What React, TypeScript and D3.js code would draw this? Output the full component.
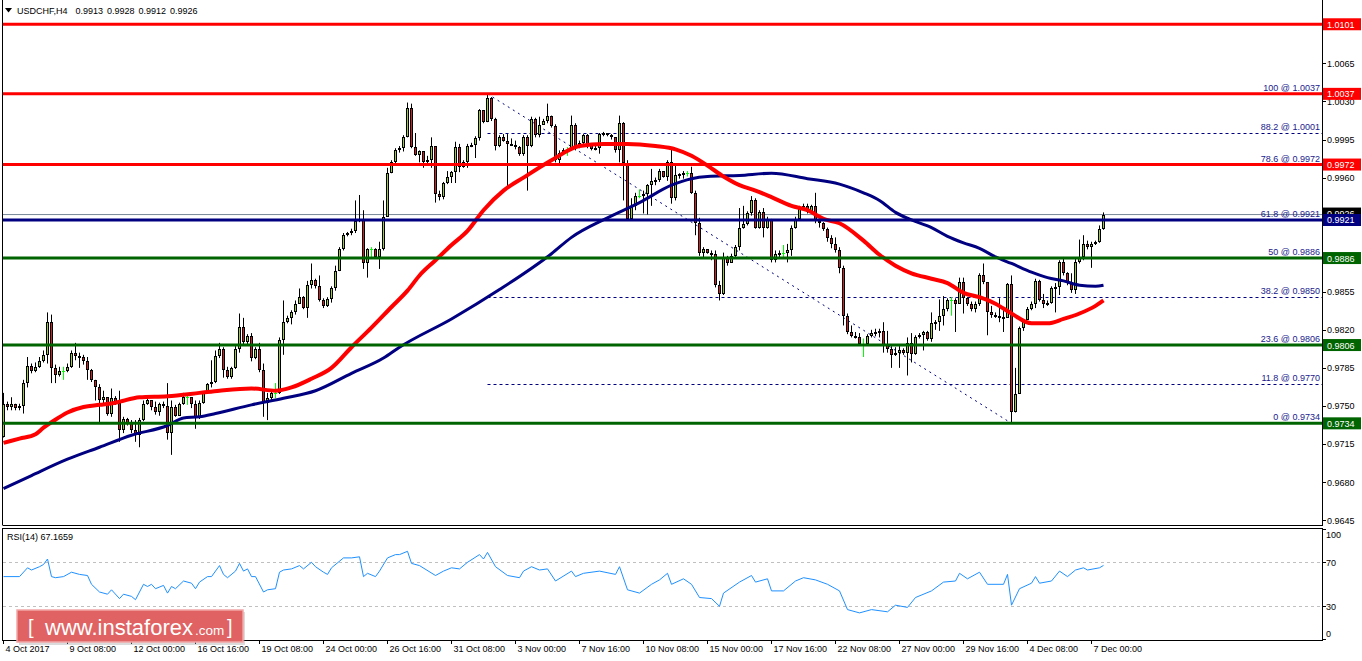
import React from 'react';
import * as d3 from 'd3';

// ---- OHLC data (price x 10000), H4 bars from 4 Oct 2017 ----
const firstOpen = 9721;
const closeP = [
  9752,9749,9752,9748,9750,9771,9787,9782,9786,9791,
  9797,9827,9785,9778,9782,9782,9786,9799,9796,9795,
  9791,9783,9774,9767,9755,9758,9743,9757,9753,9728,
  9738,9734,9728,9723,9737,9752,9755,9749,9744,9752,
  9750,9725,9749,9741,9752,9758,9758,9752,9739,9753,
  9762,9770,9772,9796,9802,9783,9777,9785,9802,9823,
  9809,9814,9794,9802,9783,9753,9757,9762,9762,9811,
  9827,9831,9836,9844,9850,9840,9861,9866,9860,9847,
  9842,9848,9858,9874,9894,9907,9909,9911,9920,9922,
  9881,9894,9894,9887,9894,9924,9964,9974,9985,9987,
  9997,10024,9988,9981,9984,9974,9976,9989,9945,9942,
  9955,9961,9965,9988,9970,9974,9989,9990,9996,10022,
  10011,10033,10014,9989,9997,9994,9991,9990,9988,9982,
  9997,9989,10014,9999,10008,10012,10017,10007,9976,9983,
  9985,9985,10008,9988,9992,9999,9991,9986,9987,10000,
  10001,9999,9997,9985,10010,9973,9922,9934,9943,9943,
  9945,9953,9957,9958,9966,9961,9974,9941,9962,9963,
  9964,9964,9946,9918,9891,9894,9891,9890,9861,9853,
  9887,9881,9888,9896,9914,9917,9927,9939,9914,9928,
  9914,9922,9884,9890,9891,9891,9893,9914,9922,9932,
  9934,9928,9934,9920,9918,9913,9904,9899,9893,9877,
  9833,9818,9814,9813,9807,9807,9814,9817,9818,9819,
  9806,9802,9797,9799,9801,9799,9808,9798,9813,9815,
  9818,9812,9826,9827,9833,9839,9847,9847,9844,9864,
  9849,9844,9839,9844,9870,9864,9836,9834,9833,9832,
  9831,9862,9744,9761,9822,9829,9839,9844,9865,9847,
  9844,9845,9858,9859,9882,9872,9863,9857,9882,9887,
  9899,9896,9899,9901,9913,9926
];
const highP = [
  9762,9754,9758,9752,9752,9774,9795,9789,9790,9795,
  9801,9836,9834,9788,9786,9786,9789,9801,9808,9799,
  9797,9795,9784,9774,9770,9764,9755,9766,9759,9764,
  9740,9739,9737,9737,9739,9755,9758,9755,9754,9753,
  9754,9771,9755,9751,9753,9762,9761,9757,9755,9755,
  9763,9771,9792,9801,9808,9804,9786,9786,9805,9835,
  9831,9816,9817,9804,9808,9789,9762,9764,9771,9813,
  9847,9833,9838,9847,9858,9851,9865,9881,9867,9870,
  9849,9850,9860,9879,9896,9909,9910,9913,9939,9944,
  9930,9895,9896,9895,9901,9939,9969,9976,9987,9989,
  9999,10029,10028,10001,9985,9980,9980,9997,9989,9948,
  9956,9966,9966,9993,9991,9976,9991,9992,9998,10023,
  10022,10037,10034,10015,9999,10000,10000,9996,9994,9989,
  9999,9999,10016,10015,10016,10014,10028,10017,10009,9985,
  9987,9988,10017,10010,9994,10000,10000,9991,9989,10001,
  10002,10001,10000,9997,10017,10011,9976,9941,9946,9949,
  9948,9954,9968,9960,9968,9966,9976,9988,9973,9964,
  9966,9966,9970,9948,9923,9896,9894,9893,9893,9865,
  9891,9888,9890,9898,9932,9934,9929,9943,9941,9930,
  9932,9924,9922,9893,9893,9898,9899,9916,9924,9934,
  9936,9936,9935,9946,9922,9919,9914,9907,9905,9896,
  9879,9835,9824,9818,9817,9812,9816,9820,9821,9821,
  9827,9819,9805,9804,9805,9803,9813,9817,9815,9817,
  9819,9819,9836,9829,9848,9851,9849,9850,9849,9868,
  9868,9850,9846,9846,9872,9881,9863,9842,9836,9849,
  9840,9863,9870,9785,9823,9830,9841,9846,9867,9866,
  9853,9847,9860,9863,9884,9887,9873,9872,9886,9903,
  9907,9902,9901,9902,9916,9928
];
const lowP = [
  9721,9746,9746,9746,9746,9743,9767,9780,9781,9785,
  9790,9789,9771,9771,9777,9774,9781,9785,9792,9785,
  9788,9774,9772,9755,9735,9751,9741,9740,9751,9717,
  9725,9732,9725,9717,9712,9736,9751,9746,9742,9741,
  9748,9719,9705,9740,9746,9751,9751,9748,9729,9738,
  9752,9762,9767,9771,9794,9776,9775,9775,9784,9799,
  9806,9807,9791,9793,9781,9740,9737,9755,9757,9761,
  9797,9826,9825,9834,9847,9839,9831,9858,9858,9846,
  9840,9841,9845,9856,9874,9893,9906,9907,9909,9919,
  9876,9868,9887,9886,9876,9893,9924,9964,9973,9983,
  9984,9997,9987,9980,9974,9969,9971,9969,9937,9939,
  9940,9954,9955,9955,9965,9969,9969,9988,9978,9994,
  10010,10011,10012,9985,9988,9993,9950,9989,9986,9980,
  9980,9948,9988,9997,9997,10009,10010,10006,9974,9973,
  9981,9980,9985,9985,9987,9991,9987,9985,9985,9982,
  9998,9998,9995,9983,9974,9939,9921,9921,9930,9941,
  9927,9926,9934,9953,9956,9960,9957,9936,9939,9959,
  9959,9961,9945,9907,9888,9886,9890,9884,9859,9847,
  9852,9879,9882,9887,9893,9913,9916,9925,9913,9913,
  9905,9913,9882,9882,9887,9886,9882,9888,9913,9922,
  9932,9927,9927,9918,9914,9911,9901,9895,9891,9872,
  9824,9816,9813,9812,9806,9795,9809,9813,9814,9813,
  9799,9799,9785,9796,9785,9797,9778,9790,9797,9812,
  9801,9810,9809,9820,9819,9824,9837,9833,9818,9847,
  9835,9842,9837,9836,9842,9862,9815,9831,9831,9827,
  9818,9831,9734,9744,9795,9819,9829,9838,9840,9846,
  9840,9842,9844,9836,9852,9870,9861,9854,9853,9881,
  9884,9894,9877,9898,9900,9912
];

// ---- Moving averages (sampled at bar indices) ----
const redMaBars = [0,4,8,10,12,16,20,24,28,34,41,49,54,62,68,72,77,82,87,92,97,101,104,108,112,116,120,125,130,137,144,150,156,163,168,172,176,180,184,188,192,197,201,205,209,215,219,223,227,232,236,240,244,248,252,257,261,265,269,273,275];
const redMaVals = [0.9716,0.9720,0.9724,0.9730,0.9735,0.9744,0.9749,0.9751,0.9753,0.9758,0.9759,0.9762,0.9764,0.9766,0.9764,0.9767,0.9775,0.9785,0.9804,0.9822,0.9841,0.9856,0.9870,0.9884,0.9898,0.9911,0.9930,0.9948,0.9960,0.9976,0.9989,0.9991,0.9991,0.9989,0.9986,0.9980,0.9971,0.9961,0.9953,0.9948,0.9942,0.9934,0.9930,0.9922,0.9918,0.9902,0.9889,0.9879,0.9872,0.9867,0.9863,0.9854,0.9850,0.9844,0.9835,0.9826,0.9826,0.9830,0.9835,0.9842,0.9847];
const navyMaBars = [0,7,16,24,32,41,45,49,53,62,70,78,87,95,99,112,124,137,142,151,159,167,172,176,184,192,201,209,215,219,223,227,232,236,240,244,248,252,257,261,265,269,273,275];
const navyMaVals = [0.9674,0.9686,0.9701,0.9712,0.9723,0.9732,0.9739,0.9740,0.9743,0.9751,0.9757,0.9764,0.9780,0.9794,0.9804,0.9830,0.9857,0.9890,0.9905,0.9923,0.9937,0.9953,0.9959,0.9961,0.9962,0.9964,0.9959,0.9954,0.9946,0.9939,0.9928,0.9921,0.9914,0.9906,0.9900,0.9895,0.9887,0.9881,0.9873,0.9868,0.9865,0.9861,0.9860,0.9861];

// ---- RSI(14) ----
const rsiBars = [0,4,6,7,9,10,11,12,13,15,17,19,21,22,24,26,27,29,30,32,33,35,36,37,38,40,41,42,43,45,47,48,49,51,52,54,55,56,58,59,60,61,62,63,65,66,68,69,70,72,74,75,77,78,80,81,82,85,87,89,90,91,93,94,96,98,99,101,102,104,108,110,112,114,116,119,120,121,123,126,129,130,132,134,136,138,142,143,145,149,153,154,156,159,162,164,166,167,170,172,174,177,179,180,184,187,188,191,192,195,198,200,203,206,209,211,214,217,221,223,226,228,232,235,238,239,241,244,246,250,251,252,254,257,258,259,262,264,266,268,270,271,274,275];
const rsiVals = [57,57,65,63,66,68,73,57,56,57,61,59,58,50,43,41,45,37,41,39,36,50,48,50,46,49,42,48,46,53,51,46,52,57,57,67,59,56,62,69,62,64,57,57,43,45,46,61,63,64,67,64,70,66,61,59,65,74,74,75,57,60,57,62,74,77,77,80,69,67,58,62,65,64,70,77,73,79,66,58,56,62,66,63,64,53,62,57,60,62,59,66,45,42,50,54,60,50,55,50,38,37,30,42,52,58,52,55,44,44,53,56,54,50,44,27,24,27,25,31,29,38,44,52,53,60,55,61,50,50,59,31,46,51,57,51,53,62,57,63,65,63,65,67.17];

// ---- Levels ----
const resistanceLevels = [1.0101, 1.0037, 0.9972];
const pivotLevels = [0.9921];
const supportLevels = [0.9886, 0.9806, 0.9734];
const currentPrice = 0.9926;
const fibRatios = ['100', '88.2', '78.6', '61.8', '50', '38.2', '23.6', '11.8', '0'];
const fibPrices = [1.0037, 1.0001, 0.9972, 0.9921, 0.9886, 0.9850, 0.9806, 0.9770, 0.9734];
const fibStartBar = 121;
const fibEndBar = 252;

const priceTicks = [1.0065, 1.0030, 0.9995, 0.9960, 0.9890, 0.9855, 0.9820, 0.9785, 0.9750, 0.9715, 0.9680, 0.9645];
const rsiTicks = [100, 70, 30, 0];
const rsiLevels = [70, 30];
const timeLabels = ['4 Oct 2017','9 Oct 08:00','12 Oct 00:00','16 Oct 16:00','19 Oct 08:00','24 Oct 00:00','26 Oct 16:00','31 Oct 08:00','3 Nov 00:00','7 Nov 16:00','10 Nov 08:00','15 Nov 00:00','17 Nov 16:00','22 Nov 08:00','27 Nov 00:00','29 Nov 16:00','4 Dec 08:00','7 Dec 00:00'];
const barsPerLabel = 16;

const FONT = "'Liberation Sans', Arial, sans-serif";

export default function App() {
  const W = 1362, H = 661;
  const left = 3, right = 1322, mainTop = 0, mainBottom = 525, rsiTop = 528, rsiBottom = 640;
  const n = closeP.length;
  const x = d3.scaleLinear().domain([0, n - 1]).range([3.5, 3.5 + 4 * (n - 1)]);
  const y = d3.scaleLinear().domain([0.96405, 1.01224]).range([mainBottom, 1]);
  const yr = d3.scaleLinear().domain([0, 100]).range([639.3, 529.3]);

  const candles = closeP.map((c, i) => {
    const o = i === 0 ? firstOpen : closeP[i - 1];
    return { i, o: o / 10000, c: c / 10000, h: highP[i] / 10000, l: lowP[i] / 10000 };
  });

  const maLine = d3.line<[number, number]>().x(d => x(d[0])).y(d => y(d[1])).curve(d3.curveMonotoneX);
  const redPts: [number, number][] = redMaBars.map((b, k) => [b, redMaVals[k]]);
  const navyPts: [number, number][] = navyMaBars.map((b, k) => [b, navyMaVals[k]]);
  const rsiLine = d3.line<[number, number]>().x(d => x(d[0])).y(d => yr(d[1]));
  const rsiPts: [number, number][] = rsiBars.map((b, k) => [b, rsiVals[k]]);

  const fmt = (p: number) => p.toFixed(4);
  const levelLine = (p: number, color: string, key: string) => (
    <line key={key} x1={left} x2={right} y1={y(p)} y2={y(p)} stroke={color} strokeWidth={3} />
  );
  const box = (p: number, color: string, key: string, dy = 0) => (
    <g key={key}>
      <rect x={1323} y={y(p) - 6 + dy} width={38} height={12} fill={color} />
      <text x={1327} y={y(p) + 3.5 + dy} fontSize={9} fill="#fff" fontFamily={FONT}>{fmt(p)}</text>
    </g>
  );

  return (
    <svg width={W} height={H} style={{ position: 'absolute', left: 0, top: 0, background: '#fff' }}>
      <rect x={0} y={0} width={W} height={H} fill="#fff" />
      <defs>
        <clipPath id="mainClip"><rect x={left} y={mainTop} width={right - left} height={mainBottom - mainTop} /></clipPath>
        <clipPath id="rsiClip"><rect x={left} y={rsiTop} width={right - left} height={rsiBottom - rsiTop} /></clipPath>
        <clipPath id="curClip"><rect x={1323} y={0} width={38} height={y(0.9921) - 6} /></clipPath>
      </defs>

      {/* main panel */}
      <g clipPath="url(#mainClip)">
        <line x1={left} x2={right} y1={y(currentPrice)} y2={y(currentPrice)} stroke="#778899" strokeWidth={1} />
        {fibPrices.map((p, k) => (
          <line key={'fb' + k} x1={x(fibStartBar)} x2={right} y1={Math.round(y(p)) + 0.5} y2={Math.round(y(p)) + 0.5}
            stroke="#000080" strokeWidth={1} strokeDasharray="3,3" />
        ))}
        <line x1={x(fibStartBar)} y1={y(fibPrices[0])} x2={x(fibEndBar)} y2={y(fibPrices[fibPrices.length - 1])}
          stroke="#000080" strokeWidth={1} strokeDasharray="2,4" />

        {candles.map(d => {
          const cx = x(d.i);
          const doji = Math.abs(d.o - d.c) < 0.00005;
          if (doji) {
            const yy = Math.round(y(d.c)) + 0.5;
            return (
              <g key={d.i}>
                <line x1={cx} x2={cx} y1={y(d.h)} y2={y(d.l)} stroke="#00ff00" strokeWidth={1} />
                <line x1={cx - 1.5} x2={cx + 1.5} y1={yy} y2={yy} stroke="#00ff00" strokeWidth={1} />
              </g>
            );
          }
          const top = Math.round(y(Math.max(d.o, d.c)));
          const bot = Math.round(y(Math.min(d.o, d.c)));
          const hh = Math.max(bot - top, 2);
          const hi = Math.min(y(d.h), top);
          const lo = Math.max(y(d.l), top + hh);
          const bull = d.c > d.o;
          return (
            <g key={d.i}>
              <line x1={cx} x2={cx} y1={hi} y2={lo} stroke="#000" strokeWidth={1} />
              <rect x={cx - 1.5} y={top} width={3} height={hh} fill="#000" />
              {hh > 2 && <rect x={cx - 0.5} y={top + 1} width={1} height={hh - 2} fill={bull ? '#9acd32' : '#d11f1f'} />}
            </g>
          );
        })}

        <path d={maLine(navyPts) || ''} fill="none" stroke="#000080" strokeWidth={3} />
        <path d={maLine(redPts) || ''} fill="none" stroke="#ff0000" strokeWidth={4} />

        {resistanceLevels.map((p, k) => levelLine(p, '#ff0000', 'r' + k))}
        {pivotLevels.map((p, k) => levelLine(p, '#000080', 'p' + k))}
        {supportLevels.map((p, k) => levelLine(p, '#006400', 's' + k))}

        {fibPrices.map((p, k) => (
          <text key={'fl' + k} x={1320} y={y(p) - 3} textAnchor="end" fontSize={9} fill="#1a1a8c" fontFamily={FONT}>
            {fibRatios[k] + ' @ ' + fmt(p)}
          </text>
        ))}
      </g>

      {/* title */}
      <path d="M5,8 L12,8 L8.5,12.5 Z" fill="#000" />
      <text x={17} y={14} fontSize={9} fontFamily={FONT} fill="#000" wordSpacing={1.5} style={{ whiteSpace: 'pre' }}>{'USDCHF,H4  0.9913 0.9928 0.9912 0.9926'}</text>

      {/* frames */}
      <line x1={left - 0.5} x2={left - 0.5} y1={0} y2={mainBottom} stroke="#000" />
      <line x1={left - 0.5} x2={right + 0.5} y1={mainBottom + 0.5} y2={mainBottom + 0.5} stroke="#000" />
      <line x1={right + 0.5} x2={right + 0.5} y1={0} y2={mainBottom + 1} stroke="#000" />

      {/* price axis */}
      {priceTicks.map((p, k) => (
        <g key={'pt' + k}>
          <line x1={right + 1} x2={right + 4} y1={Math.round(y(p)) + 0.5} y2={Math.round(y(p)) + 0.5} stroke="#000" />
          {p !== 0.9890 && <text x={1327} y={y(p) + 3.5} fontSize={9} fontFamily={FONT} fill="#000">{fmt(p)}</text>}
        </g>
      ))}
      {/* current price tag, partly covered by the 0.9921 tag */}
      <g clipPath="url(#curClip)">{box(currentPrice, '#000', 'cur', -1)}</g>
      {resistanceLevels.map((p, k) => box(p, '#ff0000', 'rb' + k))}
      {pivotLevels.map((p, k) => box(p, '#000080', 'pb' + k))}
      {supportLevels.map((p, k) => box(p, '#006400', 'sb' + k))}

      {/* RSI panel */}
      <g clipPath="url(#rsiClip)">
        {rsiLevels.map((v, k) => (
          <line key={'rl' + k} x1={left} x2={right} y1={Math.round(yr(v)) + 0.5} y2={Math.round(yr(v)) + 0.5}
            stroke="#c0c0c0" strokeDasharray="3,3" />
        ))}
        <path d={rsiLine(rsiPts) || ''} fill="none" stroke="#1e90ff" strokeWidth={1} />
      </g>
      <rect x={left - 0.5} y={rsiTop + 0.5} width={right - left + 1} height={rsiBottom - rsiTop} fill="none" stroke="#000" />
      <text x={7} y={540} fontSize={9} fontFamily={FONT} fill="#000">RSI(14) 67.1659</text>
      {rsiTicks.map((v, k) => (
        <g key={'rt' + k}>
          <line x1={right + 1} x2={right + 4} y1={Math.round(yr(v)) + 0.5} y2={Math.round(yr(v)) + 0.5} stroke="#000" />
          <text x={1326} y={v === 100 ? 538 : v === 0 ? 637 : yr(v) + 3.5} fontSize={9} fontFamily={FONT} fill="#000">{v}</text>
        </g>
      ))}

      {/* time axis */}
      {timeLabels.map((t, k) => {
        const tx = x(k * barsPerLabel);
        return (
          <g key={'tl' + k}>
            <line x1={tx} x2={tx} y1={rsiBottom + 1} y2={rsiBottom + 4} stroke="#000" />
            <text x={tx + 2} y={652} fontSize={9} fontFamily={FONT} fill="#000">{t}</text>
          </g>
        );
      })}

      {/* watermark */}
      <g>
        <rect x={19} y={612} width={226} height={33} fill="#999" opacity={0.35} />
        <rect x={17} y={610} width={226} height={32} fill="#e06262" stroke="#f2a8a8" strokeWidth={1.5} />
        <text x={28} y={634} fontSize={20} fill="#fff" fontFamily={FONT}>[</text>
        <text x={45} y={635} fontSize={22} fill="#fff" fontFamily={FONT}>www.instaforex</text>
        <text x={195} y={635} fontSize={13.5} fill="#fff" fontFamily={FONT}>.com</text>
        <text x={227} y={634} fontSize={20} fill="#fff" fontFamily={FONT}>]</text>
      </g>
    </svg>
  );
}
